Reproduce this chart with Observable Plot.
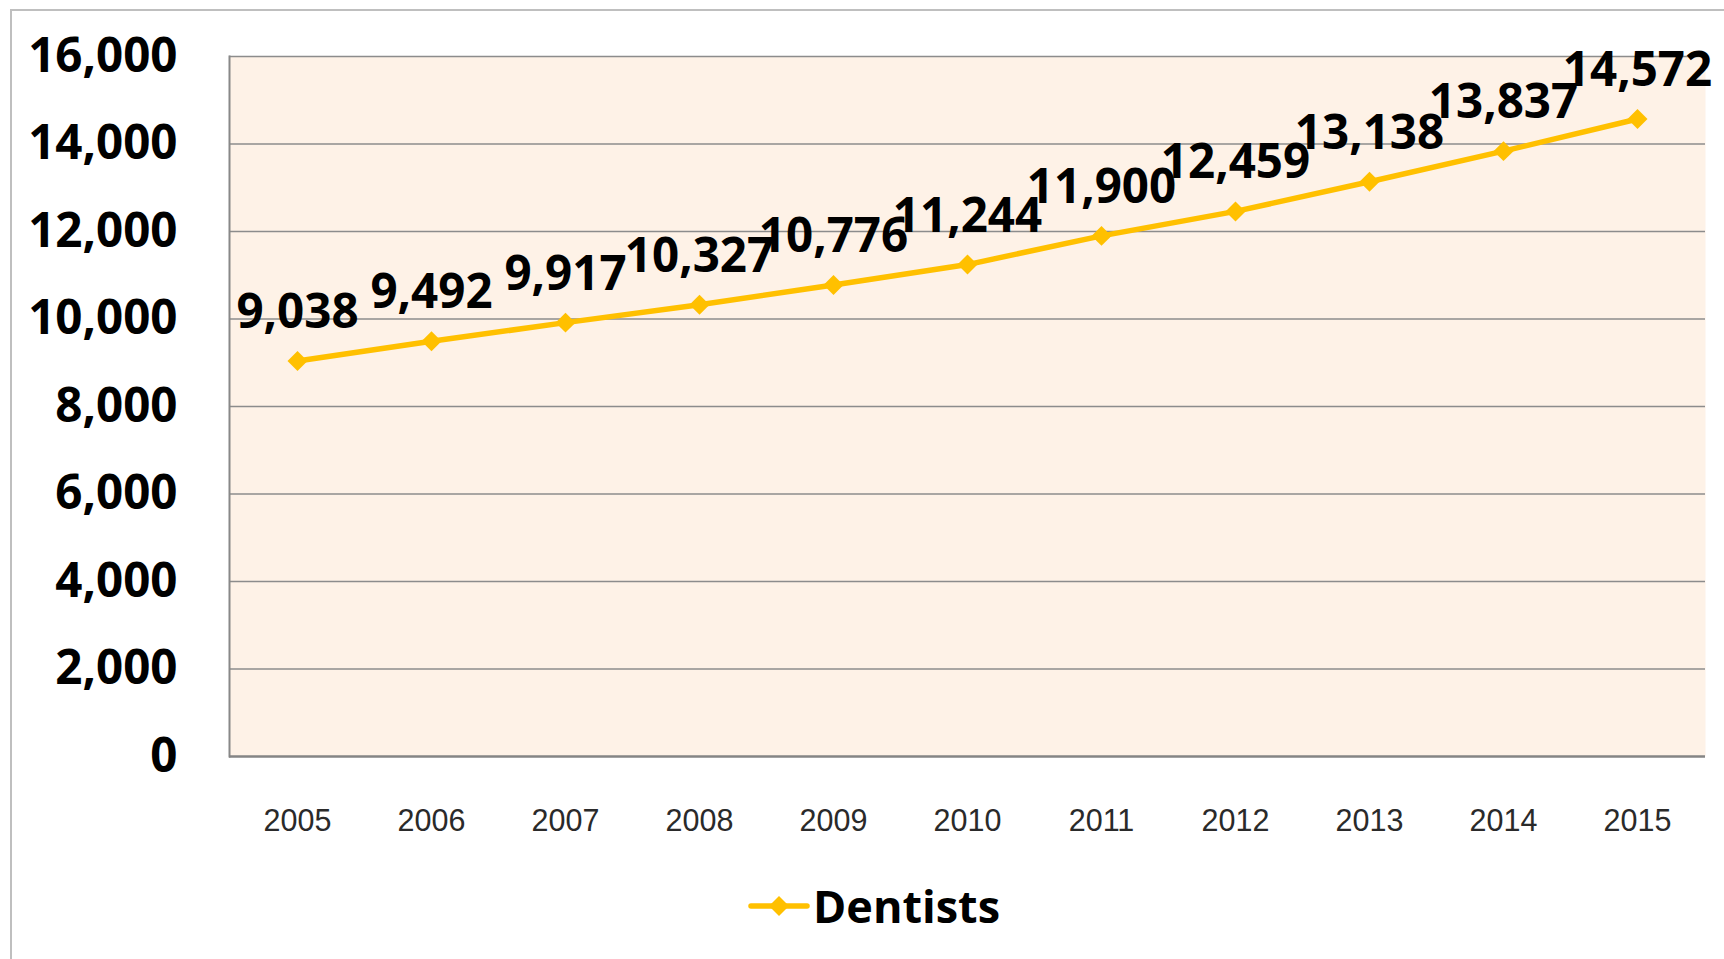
<!DOCTYPE html>
<html><head><meta charset="utf-8">
<script src="https://cdn.jsdelivr.net/npm/d3@7"></script>
<script src="https://cdn.jsdelivr.net/npm/@observablehq/plot@0.6"></script>
<style>
html,body{margin:0;padding:0;background:#fff}
body{width:1724px;height:959px;overflow:hidden;position:relative;font-family:"Open Sans",sans-serif}
#frame{position:absolute;left:10px;top:9px;width:1800px;height:1000px;border-left:2px solid #bfbfbf;border-top:2px solid #bfbfbf;box-sizing:border-box}
#chart{position:absolute;left:0;top:0}
#legend{position:absolute;left:748px;top:876px;height:60px;display:flex;align-items:center;gap:3px}
#legend span{font-family:"Open Sans",sans-serif;font-weight:700;font-size:45px;color:#000;line-height:60px}
</style>
</head><body>
<div id="frame"></div>
<div id="chart"></div>
<div id="legend"></div>
<script>
const years = ["2005","2006","2007","2008","2009","2010","2011","2012","2013","2014","2015"];
const dentists = [9038, 9492, 9917, 10327, 10776, 11244, 11900, 12459, 13138, 13837, 14572];
const yTicks = [0, 2000, 4000, 6000, 8000, 10000, 12000, 14000, 16000];
const seriesName = "Dentists";
const lineColor = "#ffc000";

const data = years.map((y, i) => ({year: y, value: dentists[i]}));
const fmt = d3.format(",");

const chart = Plot.plot({
  width: 1724,
  height: 860,
  marginLeft: 229,
  marginRight: 19,
  marginTop: 56,
  marginBottom: 104,
  style: {background: "transparent", fontFamily: "Open Sans, sans-serif", overflow: "visible"},
  x: {type: "point", domain: years, padding: 0.5, label: null},
  y: {domain: [0, 16000], label: null},
  marks: [
    Plot.frame({fill: "#fef2e7", stroke: null}),
    Plot.gridY(yTicks.filter(d => d > 0), {stroke: "#8c8c8c", strokeOpacity: 1, strokeWidth: 1.3}),
    Plot.frame({anchor: "left", stroke: "#888", strokeWidth: 2}),
    Plot.ruleY([0], {stroke: "#858585", strokeWidth: 2.5}),
    Plot.axisY({ticks: yTicks, tickSize: 0, tickPadding: 52, fontSize: 47.5, fontWeight: 700, fill: "#000", tickFormat: fmt}),
    Plot.axisX({tickSize: 0, tickPadding: 53, fontSize: 30.5, fontFamily: "Liberation Sans, sans-serif", fill: "#2a2a2a"}),
    Plot.lineY(data, {x: "year", y: "value", stroke: lineColor, strokeWidth: 5.5}),
    Plot.dot(data, {x: "year", y: "value", symbol: "diamond2", r: 9, fill: lineColor, stroke: null}),
    Plot.text(data, {x: "year", y: "value", text: d => fmt(d.value), dy: -33, lineAnchor: "bottom", fontSize: 47.5, fontWeight: 700, fill: "#000"})
  ]
});
document.getElementById("chart").appendChild(chart);

const legend = document.getElementById("legend");
const ns = "http://www.w3.org/2000/svg";
const sw = document.createElementNS(ns, "svg");
sw.setAttribute("width", 62); sw.setAttribute("height", 30);
const ln = document.createElementNS(ns, "line");
ln.setAttribute("x1", 3); ln.setAttribute("x2", 59); ln.setAttribute("y1", 15); ln.setAttribute("y2", 15);
ln.setAttribute("stroke", lineColor); ln.setAttribute("stroke-width", 5.5); ln.setAttribute("stroke-linecap", "round");
sw.appendChild(ln);
const dm = document.createElementNS(ns, "path");
dm.setAttribute("d", d3.symbol(d3.symbolDiamond2, Math.PI * 81)());
dm.setAttribute("transform", "translate(31,15)");
dm.setAttribute("fill", lineColor);
sw.appendChild(dm);
legend.appendChild(sw);
const sp = document.createElement("span");
sp.textContent = seriesName;
legend.appendChild(sp);
</script>
</body></html>
